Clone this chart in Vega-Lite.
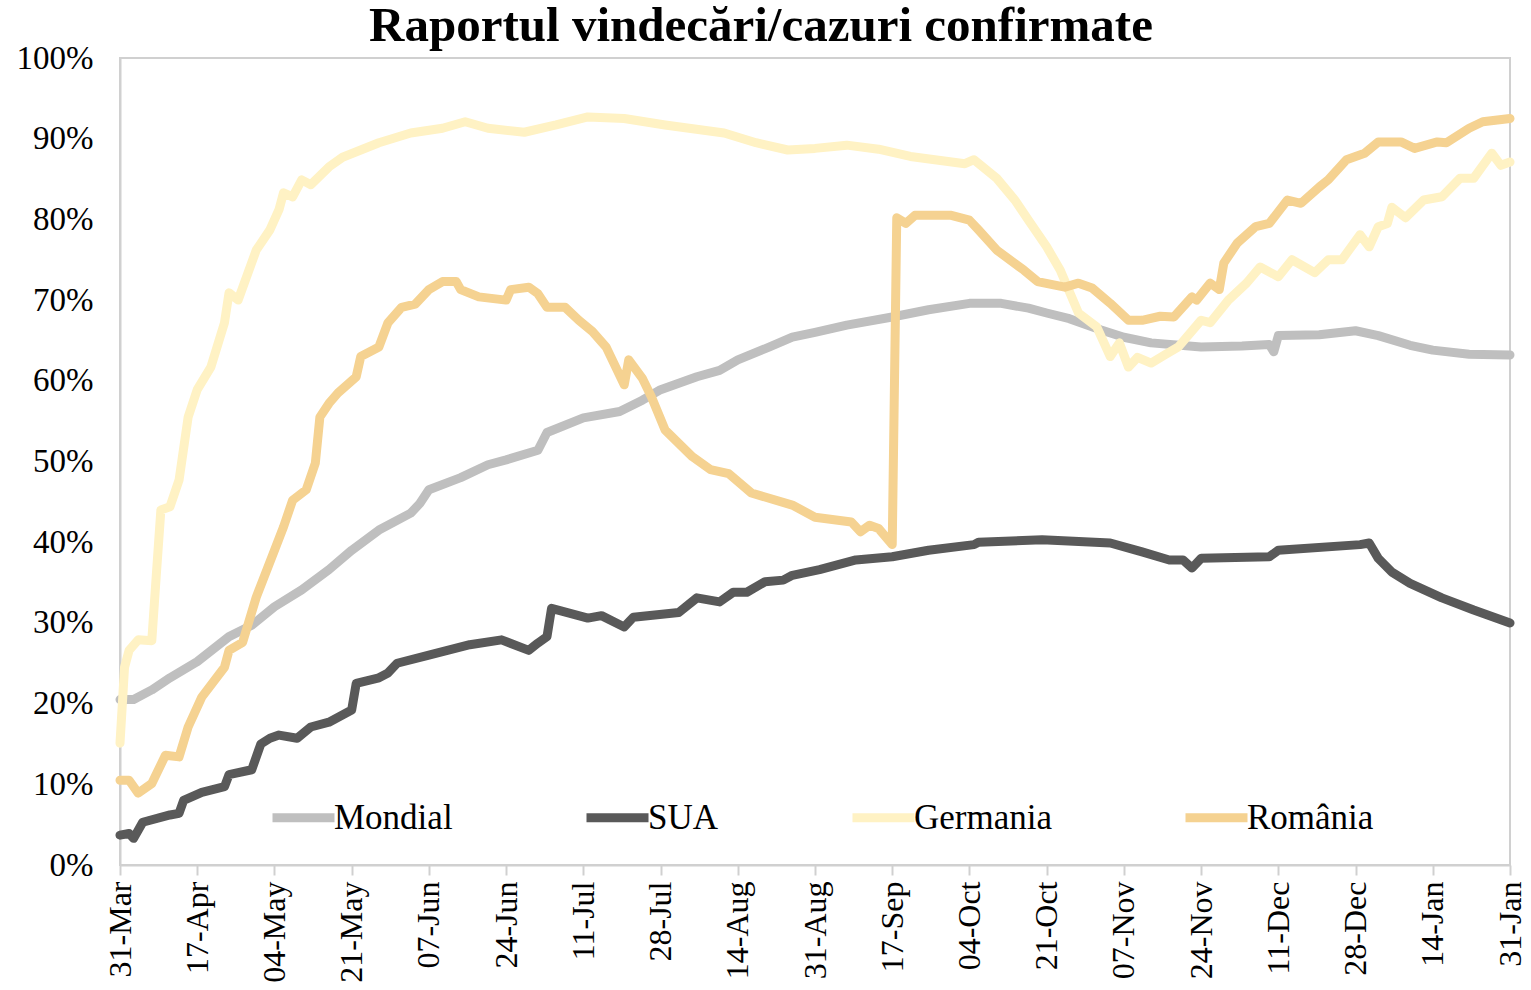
{
  "$schema": "https://vega.github.io/schema/vega-lite/v6.json",
  "width": 1390,
  "height": 807,
  "autosize": {"type": "none"},
  "padding": {"left": 120, "top": 58, "right": 21, "bottom": 125},
  "background": "white",
  "title": {"text": "Raportul vindecări/cazuri confirmate", "font": "Liberation Serif", "fontSize": 49, "fontWeight": "bold", "color": "black", "anchor": "middle", "dx": -54, "offset": -9},
  "config": {"view": {"stroke": "#d0d0d0", "strokeWidth": 2}, "font": "Liberation Serif"},
  "data": {"values": [
    {"series":"Mondial","date":"2020-03-31","value":20.5},
    {"series":"Mondial","date":"2020-04-03","value":20.5},
    {"series":"Mondial","date":"2020-04-07","value":21.7},
    {"series":"Mondial","date":"2020-04-11","value":23.2},
    {"series":"Mondial","date":"2020-04-17","value":25.2},
    {"series":"Mondial","date":"2020-04-24","value":28.3},
    {"series":"Mondial","date":"2020-04-29","value":29.7},
    {"series":"Mondial","date":"2020-05-04","value":32.0},
    {"series":"Mondial","date":"2020-05-10","value":34.1},
    {"series":"Mondial","date":"2020-05-16","value":36.6},
    {"series":"Mondial","date":"2020-05-21","value":39.0},
    {"series":"Mondial","date":"2020-05-27","value":41.5},
    {"series":"Mondial","date":"2020-06-03","value":43.6},
    {"series":"Mondial","date":"2020-06-05","value":44.8},
    {"series":"Mondial","date":"2020-06-07","value":46.5},
    {"series":"Mondial","date":"2020-06-14","value":48.0},
    {"series":"Mondial","date":"2020-06-20","value":49.6},
    {"series":"Mondial","date":"2020-06-24","value":50.2},
    {"series":"Mondial","date":"2020-07-01","value":51.4},
    {"series":"Mondial","date":"2020-07-03","value":53.6},
    {"series":"Mondial","date":"2020-07-11","value":55.4},
    {"series":"Mondial","date":"2020-07-19","value":56.2},
    {"series":"Mondial","date":"2020-07-24","value":57.6},
    {"series":"Mondial","date":"2020-07-28","value":58.9},
    {"series":"Mondial","date":"2020-08-05","value":60.5},
    {"series":"Mondial","date":"2020-08-10","value":61.3},
    {"series":"Mondial","date":"2020-08-14","value":62.6},
    {"series":"Mondial","date":"2020-08-21","value":64.2},
    {"series":"Mondial","date":"2020-08-26","value":65.4},
    {"series":"Mondial","date":"2020-08-31","value":66.0},
    {"series":"Mondial","date":"2020-09-07","value":66.9},
    {"series":"Mondial","date":"2020-09-17","value":67.9},
    {"series":"Mondial","date":"2020-09-25","value":68.8},
    {"series":"Mondial","date":"2020-10-04","value":69.6},
    {"series":"Mondial","date":"2020-10-11","value":69.6},
    {"series":"Mondial","date":"2020-10-17","value":69.0},
    {"series":"Mondial","date":"2020-10-21","value":68.4},
    {"series":"Mondial","date":"2020-10-26","value":67.7},
    {"series":"Mondial","date":"2020-11-02","value":66.3},
    {"series":"Mondial","date":"2020-11-07","value":65.4},
    {"series":"Mondial","date":"2020-11-13","value":64.7},
    {"series":"Mondial","date":"2020-11-24","value":64.2},
    {"series":"Mondial","date":"2020-12-03","value":64.3},
    {"series":"Mondial","date":"2020-12-09","value":64.5},
    {"series":"Mondial","date":"2020-12-10","value":63.6},
    {"series":"Mondial","date":"2020-12-11","value":65.6},
    {"series":"Mondial","date":"2020-12-20","value":65.7},
    {"series":"Mondial","date":"2020-12-28","value":66.2},
    {"series":"Mondial","date":"2021-01-02","value":65.6},
    {"series":"Mondial","date":"2021-01-09","value":64.4},
    {"series":"Mondial","date":"2021-01-14","value":63.8},
    {"series":"Mondial","date":"2021-01-22","value":63.3},
    {"series":"Mondial","date":"2021-01-31","value":63.2},
    {"series":"SUA","date":"2020-03-31","value":3.7},
    {"series":"SUA","date":"2020-04-02","value":3.9},
    {"series":"SUA","date":"2020-04-03","value":3.3},
    {"series":"SUA","date":"2020-04-05","value":5.3},
    {"series":"SUA","date":"2020-04-11","value":6.2},
    {"series":"SUA","date":"2020-04-13","value":6.4},
    {"series":"SUA","date":"2020-04-14","value":8.0},
    {"series":"SUA","date":"2020-04-18","value":9.0},
    {"series":"SUA","date":"2020-04-23","value":9.7},
    {"series":"SUA","date":"2020-04-24","value":11.2},
    {"series":"SUA","date":"2020-04-29","value":11.8},
    {"series":"SUA","date":"2020-05-01","value":15.0},
    {"series":"SUA","date":"2020-05-03","value":15.7},
    {"series":"SUA","date":"2020-05-05","value":16.1},
    {"series":"SUA","date":"2020-05-09","value":15.7},
    {"series":"SUA","date":"2020-05-12","value":17.1},
    {"series":"SUA","date":"2020-05-16","value":17.7},
    {"series":"SUA","date":"2020-05-21","value":19.2},
    {"series":"SUA","date":"2020-05-22","value":22.5},
    {"series":"SUA","date":"2020-05-27","value":23.2},
    {"series":"SUA","date":"2020-05-29","value":23.8},
    {"series":"SUA","date":"2020-05-31","value":25.0},
    {"series":"SUA","date":"2020-06-07","value":26.0},
    {"series":"SUA","date":"2020-06-16","value":27.3},
    {"series":"SUA","date":"2020-06-23","value":27.9},
    {"series":"SUA","date":"2020-06-29","value":26.6},
    {"series":"SUA","date":"2020-07-01","value":27.5},
    {"series":"SUA","date":"2020-07-03","value":28.3},
    {"series":"SUA","date":"2020-07-04","value":31.8},
    {"series":"SUA","date":"2020-07-12","value":30.6},
    {"series":"SUA","date":"2020-07-15","value":30.9},
    {"series":"SUA","date":"2020-07-20","value":29.5},
    {"series":"SUA","date":"2020-07-22","value":30.7},
    {"series":"SUA","date":"2020-08-01","value":31.3},
    {"series":"SUA","date":"2020-08-05","value":33.1},
    {"series":"SUA","date":"2020-08-10","value":32.6},
    {"series":"SUA","date":"2020-08-13","value":33.8},
    {"series":"SUA","date":"2020-08-16","value":33.8},
    {"series":"SUA","date":"2020-08-20","value":35.1},
    {"series":"SUA","date":"2020-08-24","value":35.3},
    {"series":"SUA","date":"2020-08-26","value":35.9},
    {"series":"SUA","date":"2020-09-01","value":36.6},
    {"series":"SUA","date":"2020-09-09","value":37.8},
    {"series":"SUA","date":"2020-09-17","value":38.2},
    {"series":"SUA","date":"2020-09-25","value":39.0},
    {"series":"SUA","date":"2020-10-05","value":39.7},
    {"series":"SUA","date":"2020-10-06","value":40.0},
    {"series":"SUA","date":"2020-10-20","value":40.3},
    {"series":"SUA","date":"2020-11-04","value":39.9},
    {"series":"SUA","date":"2020-11-11","value":38.8},
    {"series":"SUA","date":"2020-11-17","value":37.8},
    {"series":"SUA","date":"2020-11-20","value":37.8},
    {"series":"SUA","date":"2020-11-22","value":36.8},
    {"series":"SUA","date":"2020-11-24","value":38.0},
    {"series":"SUA","date":"2020-12-09","value":38.2},
    {"series":"SUA","date":"2020-12-11","value":39.0},
    {"series":"SUA","date":"2020-12-29","value":39.7},
    {"series":"SUA","date":"2020-12-31","value":39.9},
    {"series":"SUA","date":"2021-01-02","value":38.0},
    {"series":"SUA","date":"2021-01-05","value":36.3},
    {"series":"SUA","date":"2021-01-09","value":34.9},
    {"series":"SUA","date":"2021-01-16","value":33.1},
    {"series":"SUA","date":"2021-01-23","value":31.6},
    {"series":"SUA","date":"2021-01-31","value":30.0},
    {"series":"Germania","date":"2020-03-31","value":15.1},
    {"series":"Germania","date":"2020-04-01","value":24.5},
    {"series":"Germania","date":"2020-04-02","value":26.6},
    {"series":"Germania","date":"2020-04-04","value":27.9},
    {"series":"Germania","date":"2020-04-07","value":27.8},
    {"series":"Germania","date":"2020-04-08","value":36.0},
    {"series":"Germania","date":"2020-04-09","value":44.0},
    {"series":"Germania","date":"2020-04-11","value":44.4},
    {"series":"Germania","date":"2020-04-13","value":47.7},
    {"series":"Germania","date":"2020-04-15","value":55.5},
    {"series":"Germania","date":"2020-04-17","value":58.9},
    {"series":"Germania","date":"2020-04-20","value":61.7},
    {"series":"Germania","date":"2020-04-23","value":67.2},
    {"series":"Germania","date":"2020-04-24","value":70.9},
    {"series":"Germania","date":"2020-04-26","value":70.0},
    {"series":"Germania","date":"2020-04-30","value":76.2},
    {"series":"Germania","date":"2020-05-03","value":78.7},
    {"series":"Germania","date":"2020-05-05","value":81.2},
    {"series":"Germania","date":"2020-05-06","value":83.3},
    {"series":"Germania","date":"2020-05-08","value":82.8},
    {"series":"Germania","date":"2020-05-10","value":84.9},
    {"series":"Germania","date":"2020-05-12","value":84.3},
    {"series":"Germania","date":"2020-05-16","value":86.5},
    {"series":"Germania","date":"2020-05-19","value":87.7},
    {"series":"Germania","date":"2020-05-27","value":89.5},
    {"series":"Germania","date":"2020-06-03","value":90.7},
    {"series":"Germania","date":"2020-06-10","value":91.3},
    {"series":"Germania","date":"2020-06-15","value":92.1},
    {"series":"Germania","date":"2020-06-20","value":91.3},
    {"series":"Germania","date":"2020-06-28","value":90.8},
    {"series":"Germania","date":"2020-07-05","value":91.7},
    {"series":"Germania","date":"2020-07-12","value":92.7},
    {"series":"Germania","date":"2020-07-20","value":92.5},
    {"series":"Germania","date":"2020-07-29","value":91.7},
    {"series":"Germania","date":"2020-08-11","value":90.7},
    {"series":"Germania","date":"2020-08-18","value":89.5},
    {"series":"Germania","date":"2020-08-25","value":88.6},
    {"series":"Germania","date":"2020-08-31","value":88.8},
    {"series":"Germania","date":"2020-09-07","value":89.2},
    {"series":"Germania","date":"2020-09-14","value":88.7},
    {"series":"Germania","date":"2020-09-21","value":87.8},
    {"series":"Germania","date":"2020-10-03","value":86.9},
    {"series":"Germania","date":"2020-10-05","value":87.4},
    {"series":"Germania","date":"2020-10-10","value":85.1},
    {"series":"Germania","date":"2020-10-14","value":82.4},
    {"series":"Germania","date":"2020-10-17","value":79.9},
    {"series":"Germania","date":"2020-10-21","value":76.6},
    {"series":"Germania","date":"2020-10-24","value":73.7},
    {"series":"Germania","date":"2020-10-28","value":68.4},
    {"series":"Germania","date":"2020-11-01","value":66.7},
    {"series":"Germania","date":"2020-11-04","value":63.0},
    {"series":"Germania","date":"2020-11-06","value":64.7},
    {"series":"Germania","date":"2020-11-08","value":61.7},
    {"series":"Germania","date":"2020-11-10","value":62.9},
    {"series":"Germania","date":"2020-11-13","value":62.2},
    {"series":"Germania","date":"2020-11-16","value":63.2},
    {"series":"Germania","date":"2020-11-19","value":64.2},
    {"series":"Germania","date":"2020-11-24","value":67.5},
    {"series":"Germania","date":"2020-11-26","value":67.2},
    {"series":"Germania","date":"2020-11-30","value":70.0},
    {"series":"Germania","date":"2020-12-04","value":72.1},
    {"series":"Germania","date":"2020-12-07","value":74.1},
    {"series":"Germania","date":"2020-12-11","value":72.9},
    {"series":"Germania","date":"2020-12-14","value":75.0},
    {"series":"Germania","date":"2020-12-19","value":73.4},
    {"series":"Germania","date":"2020-12-22","value":75.0},
    {"series":"Germania","date":"2020-12-25","value":75.0},
    {"series":"Germania","date":"2020-12-29","value":78.1},
    {"series":"Germania","date":"2020-12-31","value":76.6},
    {"series":"Germania","date":"2021-01-02","value":79.1},
    {"series":"Germania","date":"2021-01-04","value":79.5},
    {"series":"Germania","date":"2021-01-05","value":81.5},
    {"series":"Germania","date":"2021-01-08","value":80.2},
    {"series":"Germania","date":"2021-01-12","value":82.4},
    {"series":"Germania","date":"2021-01-16","value":82.8},
    {"series":"Germania","date":"2021-01-20","value":85.1},
    {"series":"Germania","date":"2021-01-23","value":85.1},
    {"series":"Germania","date":"2021-01-27","value":88.2},
    {"series":"Germania","date":"2021-01-29","value":86.7},
    {"series":"Germania","date":"2021-01-31","value":87.1},
    {"series":"România","date":"2020-03-31","value":10.5},
    {"series":"România","date":"2020-04-02","value":10.5},
    {"series":"România","date":"2020-04-04","value":8.9},
    {"series":"România","date":"2020-04-07","value":10.1},
    {"series":"România","date":"2020-04-10","value":13.6},
    {"series":"România","date":"2020-04-13","value":13.4},
    {"series":"România","date":"2020-04-15","value":17.1},
    {"series":"România","date":"2020-04-18","value":20.8},
    {"series":"România","date":"2020-04-23","value":24.5},
    {"series":"România","date":"2020-04-24","value":26.6},
    {"series":"România","date":"2020-04-27","value":27.6},
    {"series":"România","date":"2020-04-30","value":33.2},
    {"series":"România","date":"2020-05-04","value":39.0},
    {"series":"România","date":"2020-05-06","value":41.9},
    {"series":"România","date":"2020-05-08","value":45.2},
    {"series":"România","date":"2020-05-11","value":46.5},
    {"series":"România","date":"2020-05-13","value":49.8},
    {"series":"România","date":"2020-05-14","value":55.5},
    {"series":"România","date":"2020-05-16","value":57.2},
    {"series":"România","date":"2020-05-18","value":58.5},
    {"series":"România","date":"2020-05-22","value":60.5},
    {"series":"România","date":"2020-05-23","value":63.0},
    {"series":"România","date":"2020-05-27","value":64.2},
    {"series":"România","date":"2020-05-29","value":67.2},
    {"series":"România","date":"2020-06-01","value":69.1},
    {"series":"România","date":"2020-06-04","value":69.5},
    {"series":"România","date":"2020-06-07","value":71.3},
    {"series":"România","date":"2020-06-10","value":72.3},
    {"series":"România","date":"2020-06-13","value":72.3},
    {"series":"România","date":"2020-06-14","value":71.3},
    {"series":"România","date":"2020-06-18","value":70.4},
    {"series":"România","date":"2020-06-24","value":70.0},
    {"series":"România","date":"2020-06-25","value":71.3},
    {"series":"România","date":"2020-06-29","value":71.6},
    {"series":"România","date":"2020-07-01","value":70.8},
    {"series":"România","date":"2020-07-03","value":69.1},
    {"series":"România","date":"2020-07-07","value":69.1},
    {"series":"România","date":"2020-07-10","value":67.5},
    {"series":"România","date":"2020-07-13","value":66.1},
    {"series":"România","date":"2020-07-16","value":64.2},
    {"series":"România","date":"2020-07-20","value":59.5},
    {"series":"România","date":"2020-07-21","value":62.6},
    {"series":"România","date":"2020-07-24","value":60.3},
    {"series":"România","date":"2020-07-26","value":58.0},
    {"series":"România","date":"2020-07-29","value":53.9},
    {"series":"România","date":"2020-08-04","value":50.6},
    {"series":"România","date":"2020-08-08","value":49.0},
    {"series":"România","date":"2020-08-12","value":48.5},
    {"series":"România","date":"2020-08-17","value":46.1},
    {"series":"România","date":"2020-08-26","value":44.6},
    {"series":"România","date":"2020-08-31","value":43.1},
    {"series":"România","date":"2020-09-08","value":42.5},
    {"series":"România","date":"2020-09-10","value":41.3},
    {"series":"România","date":"2020-09-12","value":42.1},
    {"series":"România","date":"2020-09-14","value":41.7},
    {"series":"România","date":"2020-09-17","value":39.7},
    {"series":"România","date":"2020-09-18","value":80.2},
    {"series":"România","date":"2020-09-20","value":79.5},
    {"series":"România","date":"2020-09-22","value":80.5},
    {"series":"România","date":"2020-09-30","value":80.5},
    {"series":"România","date":"2020-10-04","value":79.9},
    {"series":"România","date":"2020-10-06","value":78.7},
    {"series":"România","date":"2020-10-10","value":76.2},
    {"series":"România","date":"2020-10-16","value":73.7},
    {"series":"România","date":"2020-10-19","value":72.3},
    {"series":"România","date":"2020-10-25","value":71.6},
    {"series":"România","date":"2020-10-28","value":72.1},
    {"series":"România","date":"2020-10-31","value":71.5},
    {"series":"România","date":"2020-11-04","value":69.6},
    {"series":"România","date":"2020-11-08","value":67.5},
    {"series":"România","date":"2020-11-11","value":67.5},
    {"series":"România","date":"2020-11-15","value":68.0},
    {"series":"România","date":"2020-11-18","value":67.9},
    {"series":"România","date":"2020-11-22","value":70.4},
    {"series":"România","date":"2020-11-23","value":70.0},
    {"series":"România","date":"2020-11-26","value":72.1},
    {"series":"România","date":"2020-11-28","value":71.3},
    {"series":"România","date":"2020-11-29","value":74.6},
    {"series":"România","date":"2020-12-02","value":77.1},
    {"series":"România","date":"2020-12-06","value":79.1},
    {"series":"România","date":"2020-12-09","value":79.5},
    {"series":"România","date":"2020-12-13","value":82.4},
    {"series":"România","date":"2020-12-16","value":82.0},
    {"series":"România","date":"2020-12-20","value":84.0},
    {"series":"România","date":"2020-12-22","value":84.9},
    {"series":"România","date":"2020-12-26","value":87.4},
    {"series":"România","date":"2020-12-30","value":88.2},
    {"series":"România","date":"2021-01-02","value":89.6},
    {"series":"România","date":"2021-01-07","value":89.6},
    {"series":"România","date":"2021-01-10","value":88.8},
    {"series":"România","date":"2021-01-15","value":89.6},
    {"series":"România","date":"2021-01-17","value":89.5},
    {"series":"România","date":"2021-01-22","value":91.3},
    {"series":"România","date":"2021-01-25","value":92.1},
    {"series":"România","date":"2021-01-31","value":92.5}
  ]},
  "mark": {"type": "line", "strokeWidth": 9, "strokeCap": "round", "strokeJoin": "round"},
  "encoding": {
    "x": {
      "field": "date", "type": "temporal",
      "scale": {"type": "utc", "domain": [{"year": 2020, "month": 3, "date": 31, "utc": true}, {"year": 2021, "month": 1, "date": 31, "utc": true}]},
      "axis": {
        "title": null,
        "values": [
          {"year": 2020, "month": 3, "date": 31, "utc": true},
          {"year": 2020, "month": 4, "date": 17, "utc": true},
          {"year": 2020, "month": 5, "date": 4, "utc": true},
          {"year": 2020, "month": 5, "date": 21, "utc": true},
          {"year": 2020, "month": 6, "date": 7, "utc": true},
          {"year": 2020, "month": 6, "date": 24, "utc": true},
          {"year": 2020, "month": 7, "date": 11, "utc": true},
          {"year": 2020, "month": 7, "date": 28, "utc": true},
          {"year": 2020, "month": 8, "date": 14, "utc": true},
          {"year": 2020, "month": 8, "date": 31, "utc": true},
          {"year": 2020, "month": 9, "date": 17, "utc": true},
          {"year": 2020, "month": 10, "date": 4, "utc": true},
          {"year": 2020, "month": 10, "date": 21, "utc": true},
          {"year": 2020, "month": 11, "date": 7, "utc": true},
          {"year": 2020, "month": 11, "date": 24, "utc": true},
          {"year": 2020, "month": 12, "date": 11, "utc": true},
          {"year": 2020, "month": 12, "date": 28, "utc": true},
          {"year": 2021, "month": 1, "date": 14, "utc": true},
          {"year": 2021, "month": 1, "date": 31, "utc": true}
        ],
        "format": "%d-%b",
        "labelAngle": -90,
        "labelFont": "Liberation Serif",
        "labelFontSize": 32,
        "labelColor": "black",
        "labelPadding": 6,
        "labelOverlap": false,
        "labelFlush": false,
        "labelBound": false,
        "tickColor": "#d0d0d0",
        "tickSize": 10,
        "tickWidth": 2,
        "domainColor": "#d0d0d0",
        "domainWidth": 2,
        "grid": false
      }
    },
    "y": {
      "field": "value", "type": "quantitative",
      "scale": {"domain": [0, 100], "nice": false},
      "axis": {
        "title": null,
        "values": [0, 10, 20, 30, 40, 50, 60, 70, 80, 90, 100],
        "labelExpr": "datum.value + '%'",
        "ticks": false,
        "grid": false,
        "domainColor": "#d0d0d0",
        "domainWidth": 2,
        "labelFont": "Liberation Serif",
        "labelFontSize": 33,
        "labelColor": "black",
        "labelPadding": 27
      }
    },
    "color": {
      "field": "series", "type": "nominal",
      "scale": {"domain": ["Mondial", "SUA", "Germania", "România"], "range": ["#BFBFBF", "#595959", "#FFF2C4", "#F5D291"]},
      "legend": {
        "title": null,
        "orient": "none",
        "legendX": 148,
        "legendY": 724,
        "direction": "horizontal",
        "columns": 4,
        "gridAlign": "each",
        "columnPadding": 115,
        "symbolType": "stroke",
        "symbolSize": 3844,
        "symbolStrokeWidth": 9,
        "labelFont": "Liberation Serif",
        "labelFontSize": 35,
        "labelColor": "black",
        "labelOffset": -5
      }
    }
  }
}
